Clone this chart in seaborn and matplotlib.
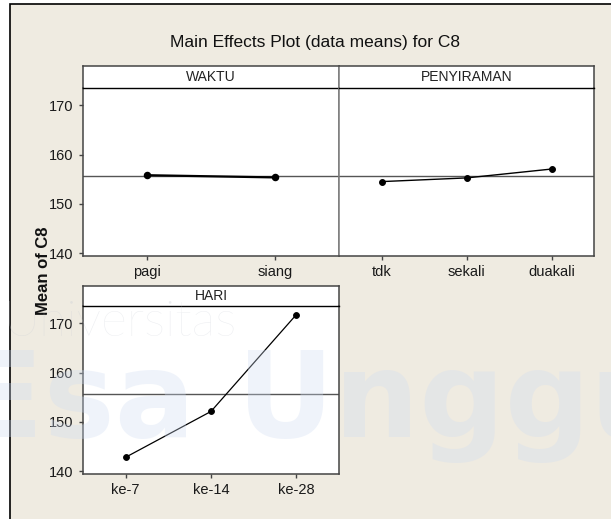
import matplotlib
matplotlib.use('Agg')
import numpy as np
import pandas as pd
import matplotlib.pyplot as plt
import seaborn as sns
from matplotlib.patches import Rectangle

# data
waktu_levels = ['pagi', 'siang']
waktu_means = [155.8, 155.35]
penyiraman_levels = ['tdk', 'sekali', 'duakali']
penyiraman_means = [154.5, 155.25, 157.05]
hari_levels = ['ke-7', 'ke-14', 'ke-28']
hari_means = [142.8, 152.1, 171.75]
grand_mean = 155.55
y_ticks = [140, 150, 160, 170]

sns.set_style('ticks')
plt.rcParams['font.family'] = ['Liberation Sans', 'DejaVu Sans']

W, H = 611, 519
fig = plt.figure(figsize=(W / 100, H / 100), dpi=100)
fig.patch.set_facecolor('white')


def box(x0, y0, x1, y1):
    return [x0 / W, 1 - y1 / H, (x1 - x0) / W, (y1 - y0) / H]


# beige frame
fig.add_artist(Rectangle((10 / W, -0.02), 1.0, 1 - 4 / H + 0.02, transform=fig.transFigure,
                         facecolor='#efebe1', edgecolor='black', lw=1.2, zorder=-5))

EDGE = '#444444'
DIV = '#7a7a7a'

# name, levels, means, x0, x1, strip top, strip bottom, axis bottom, line width, show y ticks
panels = [
    ('WAKTU', waktu_levels, waktu_means, 83, 339, 66, 88, 256, 1.6, True),
    ('PENYIRAMAN', penyiraman_levels, penyiraman_means, 339, 594, 66, 88, 256, 1.0, False),
    ('HARI', hari_levels, hari_means, 83, 339, 286, 306, 474, 0.9, True),
]

for name, levels, means, x0, x1, ys, yd, yb, lw, showy in panels:
    # strip
    sax = fig.add_axes(box(x0, ys, x1, yd))
    sax.set_facecolor('white')
    sax.set_xticks([])
    sax.set_yticks([])
    for s in sax.spines.values():
        s.set_color(EDGE)
        s.set_linewidth(1.1)
    sax.spines['bottom'].set_visible(False)
    sax.text(0.5, 0.48, name, ha='center', va='center', fontsize=10, color='#222222',
             transform=sax.transAxes)

    ax = fig.add_axes(box(x0, yd, x1, yb))
    ax.set_facecolor('white')
    df = pd.DataFrame({'level': levels, 'mean': means})
    sns.pointplot(data=df, x='level', y='mean', color='black', errorbar=None,
                  markersize=4.2, linewidth=lw, ax=ax, zorder=3)
    ax.axhline(grand_mean, color='#555555', lw=1.0, zorder=1)
    ax.set_xlim(-0.5, len(levels) - 0.5)
    ax.set_ylim(139.4, 173.5)
    ax.set_yticks(y_ticks)
    ax.set_xlabel('')
    ax.set_ylabel('')
    for s in ax.spines.values():
        s.set_visible(True)
        s.set_color(EDGE)
        s.set_linewidth(1.1)
    ax.spines['top'].set_color('black')
    ax.spines['top'].set_linewidth(1.0)
    ax.tick_params(axis='x', length=3, width=1, color=EDGE, labelsize=10.5,
                   labelcolor='#1a1a1a', pad=3.5)
    ax.tick_params(axis='y', length=3, width=1, color=EDGE, labelsize=10.5,
                   labelcolor='#1a1a1a', pad=4)
    if not showy:
        ax.tick_params(axis='y', left=False, labelleft=False)
    if name == 'WAKTU':
        ax.spines['right'].set_color(DIV)
        sax.spines['right'].set_color(DIV)
    if name == 'PENYIRAMAN':
        ax.spines['left'].set_color(DIV)
        sax.spines['left'].set_color(DIV)

fig.text(315 / W, 1 - 42 / H, 'Main Effects Plot (data means) for C8', ha='center', va='center',
         fontsize=12.5, color='#111111')
fig.text(44 / W, 1 - 271 / H, 'Mean of C8', rotation=90, ha='center', va='center',
         fontsize=12, fontweight='bold', color='#111111')

# faint watermark of the source
fig.text(4 / W, 1 - 336 / H, 'Universitas', ha='left', va='baseline', fontsize=36,
         family=['Lato', 'DejaVu Sans'], fontweight='light', color='#c9cdd6', alpha=0.35, zorder=20)
fig.text(-38 / W, 1 - 437 / H, 'Esa Unggul', ha='left', va='baseline', fontsize=86,
         family=['DejaVu Sans'], fontweight='bold', color='#cfdcf2', alpha=0.33, zorder=20)

fig.savefig('out.png', dpi=100)
